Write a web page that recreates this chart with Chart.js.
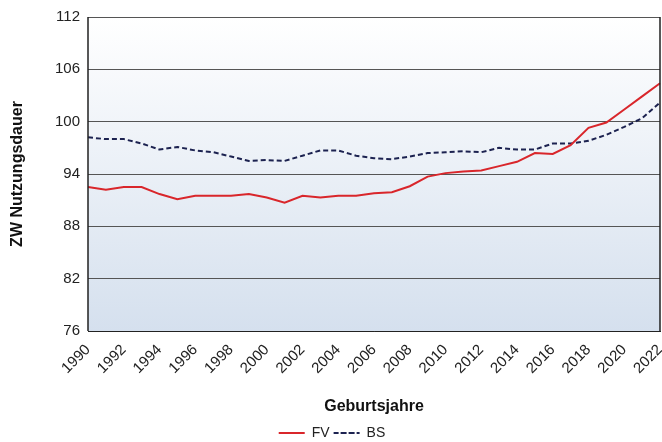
<!DOCTYPE html>
<html>
<head>
<meta charset="utf-8">
<script src="https://cdn.jsdelivr.net/npm/chart.js@4"></script>
<style>
  html, body { margin: 0; padding: 0; background: #fff; overflow: hidden; }
</style>
</head>
<body>
<canvas id="c" width="662" height="442"></canvas>
<script>
const years = [];
for (let y = 1990; y <= 2022; y++) years.push(String(y));

const fvValues = [92.5, 92.2, 92.5, 92.5, 91.7, 91.1, 91.5, 91.5, 91.5, 91.7, 91.3, 90.7, 91.5, 91.3, 91.5, 91.5, 91.8, 91.9, 92.6, 93.7, 94.1, 94.3, 94.4, 94.9, 95.4, 96.4, 96.3, 97.3, 99.3, 99.9, 101.4, 102.9, 104.4];
const bsValues = [98.2, 98.0, 98.0, 97.5, 96.8, 97.1, 96.7, 96.5, 96.0, 95.5, 95.6, 95.5, 96.1, 96.7, 96.7, 96.1, 95.8, 95.7, 96.0, 96.4, 96.5, 96.6, 96.5, 97.0, 96.8, 96.8, 97.5, 97.5, 97.8, 98.5, 99.4, 100.4, 102.2];
const yTicks = [76, 82, 88, 94, 100, 106, 112];

const plotBackground = {
  id: "plotBackground",
  beforeDraw(chart) {
    const { ctx, chartArea: a } = chart;
    const g = ctx.createLinearGradient(0, a.top, 0, a.bottom);
    g.addColorStop(0, "#ffffff");
    g.addColorStop(1, "#d5e0ee");
    ctx.save();
    ctx.fillStyle = g;
    ctx.fillRect(a.left, a.top, a.right - a.left, a.bottom - a.top);
    ctx.restore();
  },
  afterDraw(chart) {
    const { ctx, chartArea: a } = chart;
    ctx.save();
    ctx.strokeStyle = "#222";
    ctx.lineWidth = 1.5;
    ctx.beginPath();
    ctx.moveTo(a.left, a.top); ctx.lineTo(a.left, a.bottom);
    ctx.moveTo(a.right, a.top); ctx.lineTo(a.right, a.bottom);
    ctx.stroke();
    ctx.restore();
  }
};

new Chart(document.getElementById("c"), {
  type: "line",
  data: {
    labels: years,
    datasets: [
      { label: "FV", data: fvValues, borderColor: "#d9262b", borderWidth: 2, pointRadius: 0, tension: 0 },
      { label: "BS", data: bsValues, borderColor: "#1c2250", borderWidth: 2, borderDash: [5, 3], pointRadius: 0, tension: 0 }
    ]
  },
  plugins: [plotBackground],
  options: {
    responsive: false,
    animation: false,
    devicePixelRatio: 1,
    layout: { padding: { top: 9, right: 2, left: 4, bottom: -8 } },
    plugins: {
      tooltip: { enabled: false },
      legend: {
        position: "bottom",
        labels: {
          font: { family: "Arial, Liberation Sans", size: 14 },
          color: "#222",
          boxWidth: 26,
          boxHeight: 0,
          padding: 4
        }
      }
    },
    scales: {
      x: {
        offset: false,
        grid: { display: false },
        border: { color: "#222" },
        afterFit: (s) => { s.paddingRight = 0; s.height = 91; },
        ticks: {
          autoSkip: false,
          maxRotation: 45,
          minRotation: 45,
          padding: 2,
          color: "#222",
          font: { family: "Arial, Liberation Sans", size: 15 },
          callback: (v, i) => (i % 2 === 0 ? years[i] : "")
        },
        title: { display: true, text: "Geburtsjahre", color: "#111", font: { family: "Arial, Liberation Sans", size: 16, weight: "bold" }, padding: { top: 2, bottom: 6 } }
      },
      y: {
        min: 76,
        max: 112,
        afterBuildTicks: (s) => { s.ticks = yTicks.map((v) => ({ value: v })); },
        afterFit: (s) => { s.width = 84; },
        grid: { color: "#555", lineWidth: 1, drawTicks: false },
        border: { display: false },
        ticks: { color: "#222", padding: 8, font: { family: "Arial, Liberation Sans", size: 15 } },
        title: { display: true, text: "ZW Nutzungsdauer", color: "#111", font: { family: "Arial, Liberation Sans", size: 16, weight: "bold" } }
      }
    }
  }
});
</script>
</body>
</html>
